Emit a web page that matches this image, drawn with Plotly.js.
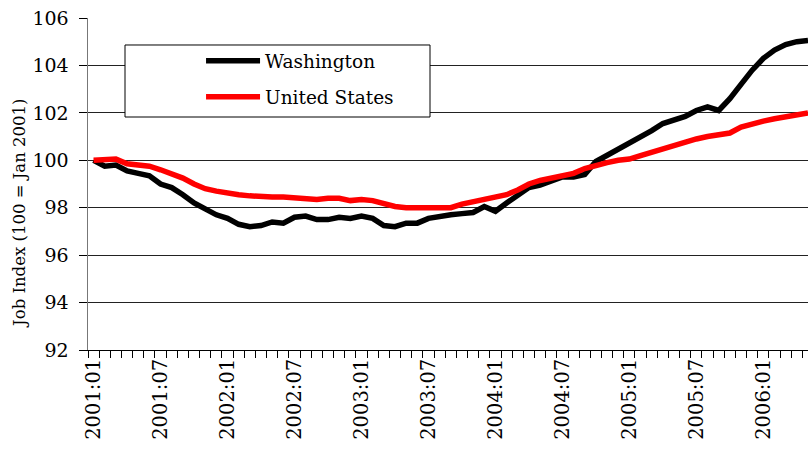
<!DOCTYPE html>
<html>
<head>
<meta charset="utf-8">
<script src="https://cdn.plot.ly/plotly-3.0.1.min.js"></script>
<style>
  html, body { margin: 0; padding: 0; background: #fff; }
  #chart { width: 808px; height: 450px; }
</style>
</head>
<body>
<div id="chart"></div>
<script>
// months 2001:01 .. 2006:05
const months = [];
for (let y = 2001; y <= 2006; y++) {
    for (let m = 1; m <= 12; m++) {
        if (y === 2006 && m > 5) break;
        months.push(y + ':' + String(m).padStart(2, '0'));
    }
}
const tickLabels = ['2001:01', '2001:07', '2002:01', '2002:07', '2003:01', '2003:07',
    '2004:01', '2004:07', '2005:01', '2005:07', '2006:01'];

const washington = [
    100.0, 99.75, 99.8, 99.55, 99.45, 99.35, 99.0, 98.85, 98.55, 98.2,
    97.95, 97.7, 97.55, 97.3, 97.2, 97.25, 97.4, 97.35, 97.6, 97.65,
    97.5, 97.5, 97.6, 97.55, 97.65, 97.55, 97.25, 97.2, 97.35, 97.35,
    97.55, 97.65, 97.7, 97.75, 97.8, 98.05, 97.85, 98.2, 98.55, 98.85,
    98.95, 99.1, 99.3, 99.3, 99.4, 99.95, 100.2, 100.5, 100.75, 100.95,
    101.25, 101.55, 101.7, 101.85, 102.1, 102.25, 102.1, 102.6, 103.2, 103.8,
    104.3, 104.65, 104.88, 105.0, 105.05
];
const unitedStates = [
    100.0, 100.05, 100.05, 99.85, 99.8, 99.75, 99.6, 99.45, 99.25, 99.0,
    98.8, 98.7, 98.6, 98.55, 98.5, 98.45, 98.45, 98.45, 98.4, 98.4,
    98.35, 98.4, 98.4, 98.3, 98.35, 98.3, 98.15, 98.05, 98.0, 98.0,
    98.0, 98.0, 98.0, 98.15, 98.25, 98.3, 98.45, 98.55, 98.75, 99.0,
    99.15, 99.25, 99.3, 99.45, 99.65, 99.8, 99.9, 100.0, 100.05, 100.2,
    100.35, 100.5, 100.65, 100.75, 100.9, 101.0, 101.05, 101.15, 101.4, 101.55,
    101.65, 101.75, 101.85, 101.95, 102.0
];

// only DejaVu Serif resolves as a serif face here
const serif = 'DejaVu Serif';

const traces = [
    {
        x: months, y: washington, name: 'Washington', legendgroup: 'a',
        type: 'scatter', mode: 'lines',
        line: { color: '#000000', width: 5.5 }
    },
    {
        x: months, y: unitedStates, name: 'United States', legendgroup: 'b',
        type: 'scatter', mode: 'lines',
        line: { color: '#ff0000', width: 5.5 }
    }
];

const layout = {
    width: 808, height: 450,
    margin: { l: 88, r: 0, t: 18, b: 100 },
    paper_bgcolor: '#fff', plot_bgcolor: '#fff',
    font: { family: serif, size: 19, color: '#000' },
    showlegend: true,
    legend: {
        x: 0.157, xanchor: 'left', y: 0.927, yanchor: 'top',
        bgcolor: 'rgba(0,0,0,0)', borderwidth: 0,
        itemwidth: 54, tracegroupgap: 9,
        font: { family: serif, size: 18.5, color: '#000' }
    },
    xaxis: {
        type: 'category',
        range: [-0.5, 64],
        tickmode: 'array',
        tickvals: months,
        ticktext: months.map(m => tickLabels.includes(m) ? m : ''),
        tickson: 'boundaries',
        ticks: 'outside', ticklen: 7, tickcolor: '#000', tickwidth: 1,
        tickangle: -90,
        tickfont: { family: serif, size: 19.5 },
        showgrid: false,
        showline: true, linecolor: '#000', linewidth: 1,
        zeroline: false, fixedrange: true
    },
    yaxis: {
        range: [92, 106],
        tick0: 92, dtick: 2,
        ticks: 'outside', ticklen: 8, tickcolor: '#000', tickwidth: 1,
        ticklabelstandoff: 6,
        tickfont: { family: serif, size: 19 },
        showgrid: true, gridcolor: '#222', gridwidth: 1,
        showline: true, linecolor: '#777', linewidth: 1.5,
        zeroline: false, fixedrange: true
    },
    shapes: [
        // legend box
        {
            type: 'rect', xref: 'paper', yref: 'paper', layer: 'above',
            x0: 0.0514, x1: 0.475, y0: 0.7018, y1: 0.9187,
            fillcolor: '#fff', line: { color: '#000', width: 1 }
        }
    ],
    annotations: [
        {
            text: 'Job Index (100 = Jan 2001)',
            xref: 'paper', yref: 'paper',
            x: -0.0944, y: 0.41, xanchor: 'center', yanchor: 'middle',
            textangle: -90, showarrow: false,
            font: { family: serif, size: 16.5, color: '#000' }
        }
    ]
};

Plotly.newPlot('chart', traces, layout, { displayModeBar: false, staticPlot: true });
</script>
</body>
</html>
